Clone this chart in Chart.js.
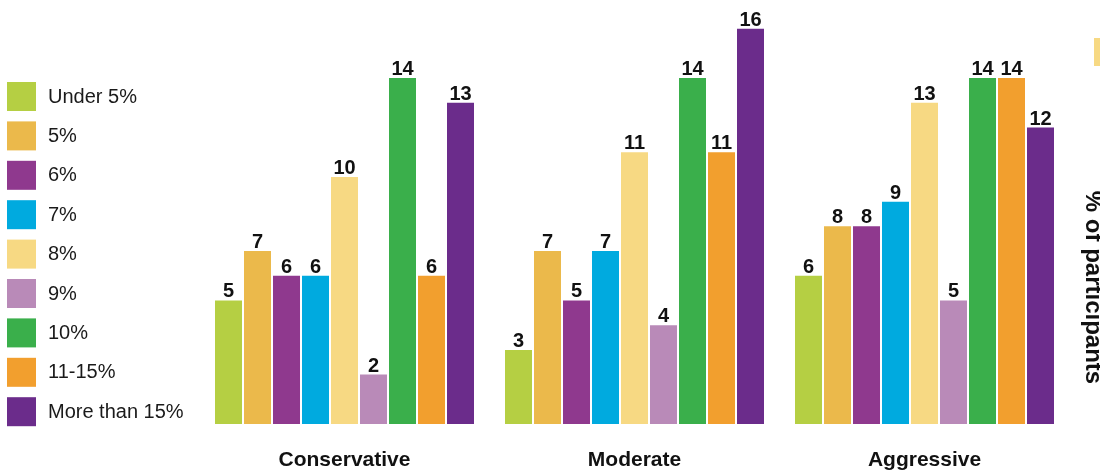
<!DOCTYPE html>
<html>
<head>
<meta charset="utf-8">
<script src="https://cdn.jsdelivr.net/npm/chart.js@4/dist/chart.umd.min.js"></script>
<style>
  html, body { margin: 0; padding: 0; background: #fff; }
  #wrap { position: relative; width: 1100px; height: 473px; }
</style>
</head>
<body>
<div id="wrap"><canvas id="chart"></canvas></div>
<script>
const categories = ['Conservative', 'Moderate', 'Aggressive']
const seriesNames = ['Under 5%', '5%', '6%', '7%', '8%', '9%', '10%', '11-15%', 'More than 15%']

// one array per contribution-rate bucket, values per category (% of participants)
const under5 = [5, 3, 6]
const pct5 = [7, 7, 8]
const pct6 = [6, 5, 8]
const pct7 = [6, 7, 9]
const pct8 = [10, 11, 13]
const pct9 = [2, 4, 5]
const pct10 = [14, 14, 14]
const pct11to15 = [6, 11, 14]
const over15 = [13, 16, 12]

const seriesValues = [under5, pct5, pct6, pct7, pct8, pct9, pct10, pct11to15, over15]
const seriesColors = ['#b5cf43', '#ebb94b', '#8f398e', '#00aadf', '#f7d983', '#b98ab8', '#3aaf4b', '#f29f2e', '#6b2c8b']

const axisTitle = '% of participants'
const FONT = '"Liberation Sans", Arial, Helvetica, sans-serif'

document.addEventListener("DOMContentLoaded", function() {
  // value printed above each bar
  const barValues = {
    id: 'barValues',
    afterDatasetsDraw(chart) {
      const ctx = chart.ctx
      ctx.save()
      ctx.font = `bold 20px ${FONT}`
      ctx.fillStyle = '#111'
      ctx.textAlign = 'center'
      ctx.textBaseline = 'alphabetic'
      chart.data.datasets.forEach((ds, i) => {
        chart.getDatasetMeta(i).data.forEach((bar, j) => {
          ctx.fillText(String(ds.data[j]), bar.x, bar.y - 3)
        })
      })
      ctx.restore()
    }
  }

  // vertical legend on the left plus rotated axis caption on the right
  const sideText = {
    id: 'sideText',
    afterDraw(chart) {
      const ctx = chart.ctx
      ctx.save()
      ctx.font = `20px ${FONT}`
      ctx.textBaseline = 'middle'
      ctx.textAlign = 'left'
      chart.data.datasets.forEach((ds, i) => {
        const top = 82 + i * 39.4
        ctx.fillStyle = ds.backgroundColor
        ctx.fillRect(7, top, 29, 29)
        ctx.fillStyle = '#1a1a1a'
        ctx.fillText(ds.label, 48, top + 15)
      })

      // swatch of the neighbouring legend, cut at the edge
      ctx.fillStyle = seriesColors[4]
      ctx.fillRect(1094, 38, 10, 28)

      ctx.translate(1086, 287.5)
      ctx.rotate(Math.PI / 2)
      ctx.font = `bold 24px ${FONT}`
      ctx.textAlign = 'center'
      ctx.textBaseline = 'alphabetic'
      ctx.fillStyle = '#111'
      ctx.fillText(axisTitle, 0, 0)
      ctx.restore()
    }
  }

  const datasets = seriesNames.map((name, i) => ({
    label: name,
    data: seriesValues[i],
    backgroundColor: seriesColors[i],
    borderWidth: 0,
    categoryPercentage: 0.9,
    barPercentage: 27 / 29
  }))

  new Chart(document.getElementById('chart'), {
    type: 'bar',
    data: { labels: categories, datasets },
    plugins: [barValues, sideText],
    options: {
      responsive: true,
      maintainAspectRatio: false,
      animation: false,
      layout: { padding: { left: 199.5, right: 30.5, top: 4, bottom: 0 } },
      plugins: {
        legend: { display: false },
        tooltip: { enabled: false }
      },
      scales: {
        x: {
          grid: { display: false, drawTicks: false },
          border: { display: false },
          ticks: {
            padding: 24,
            color: '#111',
            font: { family: FONT, size: 21, weight: 'bold' }
          },
          afterFit: (scale) => { scale.height = 49 }
        },
        y: {
          display: false,
          min: 0,
          max: 17
        }
      }
    }
  })
})
</script>
</body>
</html>
